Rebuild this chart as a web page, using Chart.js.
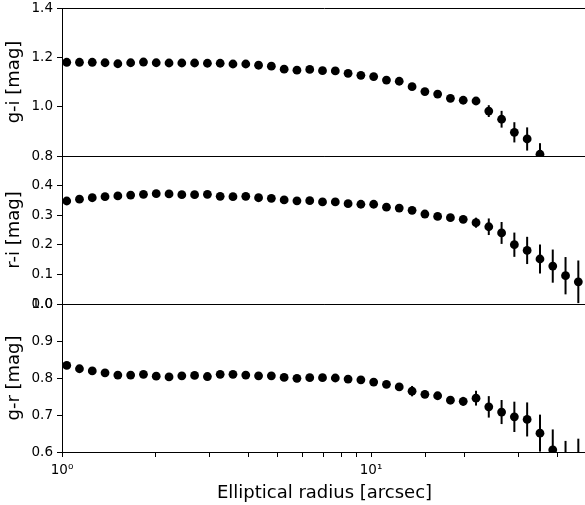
<!DOCTYPE html>
<html><head><meta charset="utf-8">
<script src="https://cdn.jsdelivr.net/npm/chart.js@4"></script>
<style>html,body{margin:0;padding:0;overflow:hidden;background:#fff}#wrap{width:600px;height:505px}</style>
</head><body><div id="wrap"><canvas id="c" width="600" height="505"></canvas></div>
<script>
// Elliptical radius [arcsec]
const radius = [1.036,1.139,1.253,1.378,1.516,1.668,1.835,2.018,2.220,2.442,2.686,2.955,3.250,3.575,3.933,4.326,4.759,5.235,5.758,6.334,6.967,7.664,8.430,9.273,10.20,11.22,12.34,13.58,14.94,16.43,18.07,19.88,21.87,24.05,26.46,29.10,32.01,35.22,38.74,42.61,46.87];
// g-i colour
const gi = [1.180,1.180,1.180,1.178,1.174,1.178,1.181,1.178,1.177,1.177,1.177,1.176,1.176,1.173,1.173,1.168,1.164,1.152,1.148,1.151,1.146,1.145,1.135,1.127,1.122,1.108,1.103,1.081,1.061,1.051,1.034,1.026,1.023,0.982,0.949,0.896,0.869,0.807,null,null,null];
const giErr = [0.002,0.002,0.002,0.002,0.002,0.002,0.002,0.002,0.002,0.002,0.003,0.003,0.003,0.003,0.003,0.003,0.004,0.004,0.004,0.004,0.005,0.005,0.005,0.006,0.006,0.007,0.007,0.008,0.009,0.010,0.011,0.012,0.013,0.024,0.034,0.041,0.047,0.045,null,null,null];
// r-i colour
const ri = [0.348,0.354,0.359,0.3625,0.365,0.368,0.3705,0.3727,0.372,0.3695,0.3695,0.3705,0.3637,0.3625,0.3637,0.359,0.357,0.3515,0.3485,0.349,0.345,0.345,0.339,0.337,0.337,0.327,0.324,0.3166,0.304,0.296,0.2916,0.286,0.2747,0.261,0.240,0.2003,0.181,0.152,0.128,0.0956,0.075];
const riErr = [0.002,0.002,0.002,0.002,0.002,0.002,0.002,0.002,0.002,0.002,0.003,0.003,0.003,0.003,0.003,0.003,0.004,0.004,0.004,0.004,0.005,0.005,0.005,0.006,0.006,0.007,0.007,0.008,0.009,0.010,0.011,0.012,0.017,0.028,0.037,0.041,0.046,0.049,0.056,0.063,0.072];
// g-r colour
const gr = [0.834,0.825,0.819,0.814,0.808,0.808,0.810,0.805,0.803,0.806,0.807,0.804,0.810,0.810,0.808,0.806,0.806,0.8016,0.799,0.801,0.801,0.800,0.797,0.795,0.789,0.783,0.776,0.7645,0.756,0.752,0.740,0.737,0.7455,0.722,0.708,0.695,0.688,0.651,0.606,0.575,0.566];
const grErr = [0.002,0.002,0.002,0.002,0.002,0.002,0.002,0.002,0.002,0.002,0.003,0.003,0.003,0.003,0.003,0.003,0.004,0.004,0.004,0.004,0.005,0.005,0.005,0.006,0.006,0.007,0.007,0.014,0.010,0.010,0.011,0.012,0.020,0.029,0.0325,0.041,0.046,0.050,0.055,0.055,0.070];

const xTickLabels = {1:'10\u2070', 10:'10\u00B9'};
const panelTitles = ['g-i [mag]','r-i [mag]','g-r [mag]'];

function pts(vals, errs){ return radius.map((r,i)=>({x:r, y:vals[i], err:errs[i]})); }

const FONT = 'DejaVu Sans';
const errorBars = {
  id:'errorBars',
  beforeDatasetsDraw(chart){
    const ctx = chart.ctx;
    chart.data.datasets.forEach((ds,di)=>{
      const meta = chart.getDatasetMeta(di);
      const xs = chart.scales[meta.xAxisID], ys = chart.scales[meta.yAxisID];
      ctx.save();
      ctx.beginPath(); ctx.rect(xs.left, ys.top, xs.right-xs.left, ys.bottom-ys.top); ctx.clip();
      ctx.strokeStyle='#000'; ctx.lineWidth=2;
      ds.data.forEach(p=>{
        if(p.y==null||!p.err) return;
        const x = xs.getPixelForValue(p.x);
        ctx.beginPath();
        ctx.moveTo(x, ys.getPixelForValue(p.y-p.err));
        ctx.lineTo(x, ys.getPixelForValue(p.y+p.err));
        ctx.stroke();
      });
      ctx.restore();
    });
  }
};
const frame = {
  id:'frame',
  afterDraw(chart){
    const ctx = chart.ctx, xs = chart.scales.x;
    ctx.save(); ctx.strokeStyle='#000'; ctx.lineWidth=1;
    ['yTop','yMid','yBot'].forEach(id=>{
      const s = chart.scales[id];
      [s.top, s.bottom].forEach(y=>{
        const yy = Math.round(y)+0.5;
        ctx.beginPath(); ctx.moveTo(xs.left, yy); ctx.lineTo(xs.right, yy); ctx.stroke();
      });
    });
    ctx.restore();
  }
};

function yAxis(title, min, max, step, hideTop){
  return {
    type:'linear', position:'left', stack:'panels', stackWeight:1, min:min, max:max,
    afterFit(s){ s.width = 62; s.paddingTop = 0; s.paddingBottom = 0; },
    ticks:{ stepSize:step, autoSkip:false, color:'#000', font:{family:FONT, size:13.5}, padding:4,
      callback(v){ if(hideTop && Math.abs(v-max)<1e-9) return ''; return Number(v).toFixed(1); } },
    grid:{ drawOnChartArea:false, drawTicks:true, tickLength:5, color:'#000', tickWidth:1 },
    border:{ display:true, color:'#000', width:1 },
    title:{ display:true, text:title, color:'#000', font:{family:FONT, size:18}, padding:{top:4,bottom:0} }
  };
}

const mk = (vals, errs, axis)=>({ data: pts(vals, errs), yAxisID: axis, xAxisID:'x', showLine:false,
  pointRadius:4.4, pointHoverRadius:4.4, pointBackgroundColor:'#000', pointBorderWidth:0, borderColor:'#000', clip:0 });

new Chart(document.getElementById('c'), {
  type:'scatter',
  data:{ datasets:[ mk(gi, giErr, 'yTop'), mk(ri, riErr, 'yMid'), mk(gr, grErr, 'yBot') ] },
  options:{
    responsive:false, animation:false, devicePixelRatio:1,
    layout:{ padding:{ top:8, right:13, left:0, bottom:0 } },
    plugins:{ legend:{display:false}, tooltip:{enabled:false} },
    scales:{
      x:{ type:'logarithmic', position:'bottom', min:1, max:50,
        afterFit(s){ s.height = 53; },
        ticks:{ autoSkip:false, maxRotation:0, color:'#000', font:{family:FONT, size:13.5}, padding:5,
          callback(v){ return xTickLabels[v] || ''; } },
        grid:{ drawOnChartArea:false, drawTicks:true, tickLength:5, color:'#000' },
        border:{ display:true, color:'#000', width:1 },
        title:{ display:true, text:'Elliptical radius [arcsec]', color:'#000', font:{family:FONT, size:18}, padding:{top:0,bottom:1} }
      },
      yBot: yAxis(panelTitles[2], 0.6, 1.0, 0.1, false),
      yMid: yAxis(panelTitles[1], 0.0, 0.5, 0.1, true),
      yTop: yAxis(panelTitles[0], 0.8, 1.4, 0.2, false)
    }
  },
  plugins:[errorBars, frame]
});
</script></body></html>
